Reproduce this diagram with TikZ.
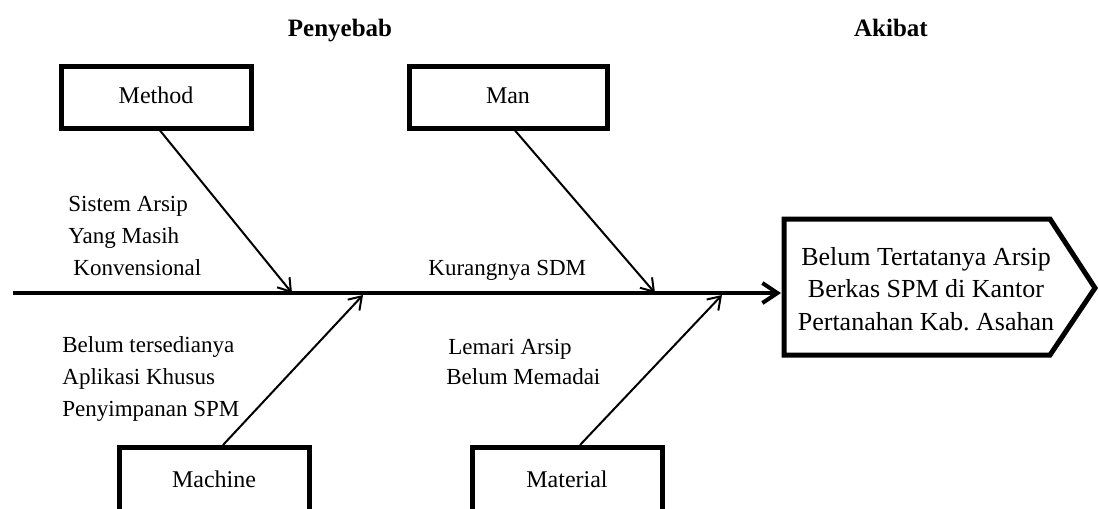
\documentclass[tikz,border=0pt]{standalone}
\usepackage{fontspec}
\setmainfont{Liberation Serif}
\usetikzlibrary{arrows.meta}

\tikzset{
	heading/.style={anchor=base, inner sep=0pt, font=\bfseries\fontsize{12.5}{15}\selectfont},
	cause/.style={draw, line width=2.5pt, minimum width=95pt, minimum height=31pt, text height=8.5pt, text depth=2.5pt, font=\fontsize{12}{14}\selectfont},
	reason/.style={align=left, anchor=base west, inner sep=0pt, font=\fontsize{11.5}{16}\selectfont},
	bone/.style={line width=1pt, -{Straight Barb[length=6pt,width=8pt]}},
}

\begin{document}
\begin{tikzpicture}[x=0.5pt, y=-0.5pt]
	\useasboundingbox (0,0) rectangle (1099,509);
	\clip (0,0) rectangle (1099,509);

	\node[heading] (penyebab) at (340,36) {Penyebab};
	\node[heading] (akibat) at (891,36) {Akibat};

	\node[cause] (method) at (156,97) {Method};
	\node[cause, minimum width=99pt] (man) at (508,97) {Man};
	\node[cause, anchor=north, inner ysep=0pt, text height=20pt, text depth=28pt] (machine) at (214,445) {Machine};
	\node[cause, anchor=north, inner ysep=0pt, text height=20pt, text depth=28pt] (material) at (567,445) {Material};

	% kotak akibat
	\draw[line width=2.5pt, line join=miter] (784,219) -- (1050,219) -- (1095,288) -- (1050,355) -- (784,355) -- cycle;
	\node[align=center, anchor=base, inner sep=0pt, font=\fontsize{13}{16.25}\selectfont] (effect) at (926,330) {Belum Tertatanya Arsip\\Berkas SPM di Kantor\\Pertanahan Kab.\ Asahan};

	\node[reason] (sistem) at (68,275) {Sistem Arsip\\Yang Masih\\\hspace*{2.5pt}Konvensional};
	\node[reason] (sdm) at (428,275) {Kurangnya SDM};
	\node[reason] (aplikasi) at (62,416) {Belum tersedianya\\Aplikasi Khusus\\Penyimpanan SPM};
	\node[reason, font=\fontsize{11.5}{15}\selectfont] (lemari) at (446,384) {\hspace*{1pt}Lemari Arsip\\Belum Memadai};

	\coordinate (tail) at (13,293);
	\coordinate (head) at (781,293);
	\coordinate (tipmethod) at (292,293);
	\coordinate (tipman) at (655,293);
	\coordinate (tipmachine) at (363,295);
	\coordinate (tipmaterial) at (722,295);

	\draw[line width=2pt, -{Straight Barb[length=7.5pt,width=10pt]}] (tail) -- (head);
	\draw[bone] ([xshift=2pt]method.south) -- (tipmethod);
	\draw[bone] ([xshift=3.5pt]man.south) -- (tipman);
	\draw[bone] ([xshift=4.5pt]machine.north) -- (tipmachine);
	\draw[bone] ([xshift=6.5pt]material.north) -- (tipmaterial);
\end{tikzpicture}
\end{document}
